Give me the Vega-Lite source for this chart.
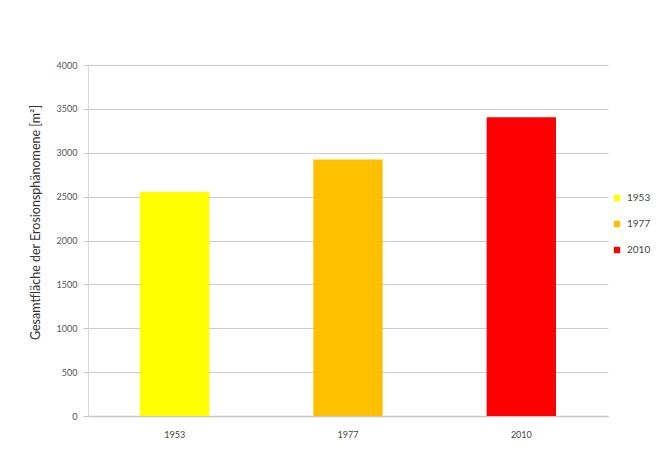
{
  "$schema": "https://vega.github.io/schema/vega-lite/v6.json",
  "autosize": "none",
  "width": 520,
  "height": 351,
  "padding": {"left": 88, "top": 65, "right": 60, "bottom": 56},
  "background": "white",
  "data": {"values": [
    {"Jahr": "1953", "Flaeche": 2552},
    {"Jahr": "1977", "Flaeche": 2924},
    {"Jahr": "2010", "Flaeche": 3405}
  ]},
  "mark": {"type": "bar"},
  "encoding": {
    "x": {
      "field": "Jahr", "type": "nominal",
      "scale": {"paddingInner": 0.6, "paddingOuter": 0.3},
      "axis": {"title": null, "labelAngle": 0, "ticks": false, "labelPadding": 14, "labelFontSize": 9, "labelColor": "#444", "domainColor": "#c8c8c8", "domainWidth": 1.5}
    },
    "y": {
      "field": "Flaeche", "type": "quantitative",
      "scale": {"domain": [0, 4000]},
      "axis": {
        "title": "Gesamtfläche der Erosionsphänomene [m²]",
        "titleFontSize": 12.5, "titleFontWeight": "normal", "titleColor": "#333", "titlePadding": 14,
        "titleY": 157,
        "values": [0, 500, 1000, 1500, 2000, 2500, 3000, 3500, 4000],
        "format": "d",
        "labelFontSize": 9, "labelColor": "#555", "labelPadding": 6,
        "tickSize": 5, "tickColor": "#c8c8c8",
        "domainColor": "#d8d8d8",
        "gridColor": "#cccccc", "gridWidth": 1.2
      }
    },
    "color": {
      "field": "Jahr", "type": "nominal",
      "scale": {"domain": ["1953", "1977", "2010"], "range": ["#FFFF00", "#FFC000", "#FF0000"]},
      "legend": {
        "title": null, "orient": "none", "legendX": 524, "legendY": 128,
        "symbolType": "square", "symbolSize": 40, "symbolStrokeWidth": 0,
        "labelFontSize": 10, "labelColor": "#444", "rowPadding": 16, "labelOffset": 5
      }
    }
  },
  "config": {
    "font": "Lato",
    "view": {"stroke": null}
  }
}
